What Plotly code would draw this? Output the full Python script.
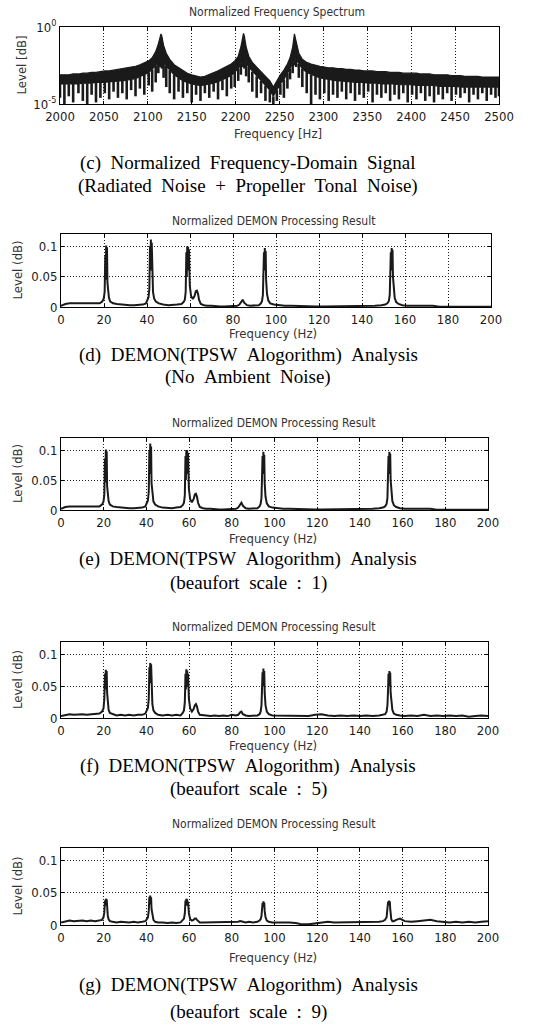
import plotly.graph_objects as go

W, H = 550, 1029

# ---------------- Panel (c): normalized frequency spectrum (log10 levels) ----------------
c_freq = [2000, 2005, 2010, 2015, 2021, 2026, 2031, 2036, 2041, 2046, 2051, 2056, 2061, 2066, 2071,
          2076, 2081, 2086, 2091, 2096, 2101, 2105, 2109, 2112, 2114, 2115, 2116, 2118, 2121, 2125,
          2130, 2135, 2140, 2145, 2150, 2155, 2160, 2165, 2170, 2175, 2180, 2185, 2190, 2195, 2199,
          2203, 2206, 2208, 2209, 2210, 2212, 2215, 2219, 2224, 2229, 2234, 2239, 2243, 2247, 2251,
          2255, 2259, 2262, 2265, 2267, 2269, 2272, 2276, 2281, 2286, 2291, 2296, 2301, 2306, 2311,
          2316, 2321, 2326, 2331, 2336, 2341, 2346, 2351, 2356, 2361, 2366, 2371, 2376, 2381, 2386,
          2391, 2396, 2401, 2406, 2411, 2416, 2421, 2426, 2431, 2436, 2441, 2446, 2451, 2456, 2461,
          2466, 2471, 2476, 2481, 2486, 2491, 2496, 2500]
c_top_log = [-3.1, -3.1, -3.1, -3.05, -3.05, -3.0, -3.0, -2.95, -2.95, -2.9, -2.85, -2.85, -2.8, -2.75, -2.7,
             -2.65, -2.6, -2.55, -2.45, -2.35, -2.2, -2.0, -1.6, -1.1, -0.6, -0.45, -0.6, -1.2, -1.7, -2.1,
             -2.45, -2.65, -2.85, -3.0, -3.1, -3.2, -3.25, -3.2, -3.1, -3.0, -2.85, -2.7, -2.55, -2.4, -2.2,
             -1.9, -1.3, -0.55, -0.42, -0.6, -1.3, -1.9, -2.3, -2.6, -2.9, -3.2, -3.5, -3.9, -3.5, -3.1,
             -2.8, -2.4, -2.0, -1.3, -0.45, -1.0, -1.7, -2.1, -2.3, -2.4, -2.5, -2.55, -2.6, -2.65, -2.65,
             -2.7, -2.7, -2.75, -2.75, -2.8, -2.8, -2.85, -2.85, -2.85, -2.9, -2.9, -2.9, -2.95, -2.95, -2.95,
             -3.0, -3.0, -3.0, -3.0, -3.05, -3.05, -3.05, -3.1, -3.1, -3.1, -3.1, -3.15, -3.15, -3.15, -3.2,
             -3.2, -3.2, -3.2, -3.25, -3.25, -3.25, -3.25, -3.25]
c_band_log = [-3.7, -3.7, -3.7, -3.7, -3.7, -3.65, -3.65, -3.65, -3.6, -3.6, -3.6, -3.55, -3.55, -3.5, -3.5,
              -3.45, -3.4, -3.35, -3.25, -3.1, -2.95, -2.75, -2.5, -2.3, -2.1, -1.8, -2.0, -2.3, -2.5, -2.8,
              -3.1, -3.3, -3.5, -3.6, -3.7, -3.75, -3.8, -3.75, -3.7, -3.65, -3.55, -3.45, -3.3, -3.15, -2.95,
              -2.7, -2.4, -2.1, -1.9, -2.0, -2.3, -2.6, -2.9, -3.2, -3.5, -3.8, -4.1, -4.5, -4.1, -3.7,
              -3.4, -3.0, -2.7, -2.3, -1.9, -2.1, -2.4, -2.7, -2.95, -3.1, -3.2, -3.3, -3.35, -3.4, -3.45,
              -3.5, -3.5, -3.55, -3.55, -3.6, -3.6, -3.6, -3.65, -3.65, -3.65, -3.7, -3.7, -3.7, -3.7, -3.75,
              -3.75, -3.75, -3.75, -3.8, -3.8, -3.8, -3.8, -3.8, -3.85, -3.85, -3.85, -3.85, -3.85, -3.9, -3.9,
              -3.9, -3.9, -3.9, -3.9, -3.9, -3.9, -3.9, -3.9]
c_trough_log = [-4.6, -5.0, -4.5, -4.9, -4.3, -4.8, -5.0, -4.4, -4.9, -4.6, -4.3, -4.7, -4.2, -4.6, -4.3,
                -4.7, -4.1, -4.5, -4.0, -4.4, -3.8, -4.2, -3.6, -3.0, -2.6, -2.4, -2.7, -3.3, -3.9, -4.3,
                -4.7, -4.2, -4.6, -4.3, -4.9, -4.4, -4.8, -4.3, -4.6, -4.2, -4.7, -4.1, -4.5, -4.0, -3.9,
                -3.5, -3.1, -2.6, -2.5, -2.7, -3.2, -3.6, -4.2, -4.6, -4.3, -4.8, -4.9, -5.0, -4.8, -4.4,
                -4.6, -4.0, -3.4, -3.0, -2.5, -2.6, -3.3, -3.9, -4.3, -5.0, -4.4, -4.7, -4.3, -4.8, -4.4,
                -4.6, -4.2, -4.7, -4.3, -4.8, -4.4, -4.6, -4.2, -4.9, -4.4, -4.6, -4.3, -4.8, -4.4, -4.7,
                -4.3, -4.9, -4.4, -4.7, -4.3, -4.8, -4.5, -4.9, -4.4, -4.7, -4.3, -4.8, -4.4, -4.6, -4.3,
                -4.9, -4.4, -4.7, -4.3, -4.8, -4.4, -4.6, -4.5]
c_xticks = [2000, 2050, 2100, 2150, 2200, 2250, 2300, 2350, 2400, 2450, 2500]

# ---------------- Panels (d)-(g): DEMON results ----------------
demon_freq = [0, 2, 4, 6, 8, 10, 12, 14, 16, 18,
              19.2, 19.9, 20.3, 20.6, 20.8, 21.0, 21.2, 21.4, 21.6, 21.9, 22.3, 22.9, 24.2,
              26, 28, 30, 32, 34, 36, 38, 39.5,
              40.0, 40.7, 41.1, 41.4, 41.6, 41.8, 42.0, 42.2, 42.4, 42.8, 43.3, 44.1, 45.5,
              47.5, 50, 52, 54, 56, 57.0,
              57.6, 58.0, 58.3, 58.5, 58.7, 58.9, 59.1, 59.3, 59.5, 59.9, 60.5, 61.3,
              62.1, 62.7, 63.2, 63.7, 64.2, 65, 66.5,
              68, 70, 72, 74, 76, 78, 80, 82,
              83.0, 83.9, 84.5, 85.2, 86.5,
              88, 90, 92, 93.0,
              93.5, 93.9, 94.2, 94.4, 94.6, 94.8, 95.0, 95.2, 95.4, 95.8, 96.4, 97.3, 99.0,
              101, 104, 107, 110, 113, 116, 119, 122, 125, 128, 131, 134, 137, 140, 143, 146, 149, 150.8,
              151.8, 152.5, 152.9, 153.2, 153.4, 153.6, 153.8, 154.0, 154.2, 154.4, 154.7, 155.2, 155.9, 157.0, 158.8,
              161, 164, 167, 170, 173, 176, 179, 182, 185, 188, 191, 194, 197, 200]

level_no_noise = [0.002, 0.005, 0.006, 0.006, 0.006, 0.006, 0.006, 0.005, 0.005, 0.006,
                  0.009, 0.014, 0.025, 0.085, 0.05, 0.101, 0.045, 0.098, 0.04, 0.028, 0.015, 0.009, 0.006,
                  0.005, 0.004, 0.004, 0.003, 0.003, 0.003, 0.004, 0.006,
                  0.01, 0.016, 0.03, 0.1, 0.065, 0.111, 0.06, 0.106, 0.045, 0.025, 0.014, 0.009, 0.006,
                  0.004, 0.003, 0.003, 0.004, 0.005, 0.008,
                  0.012, 0.025, 0.09, 0.05, 0.1, 0.06, 0.099, 0.07, 0.095, 0.035, 0.018, 0.013,
                  0.018, 0.026, 0.027, 0.022, 0.012, 0.005, 0.003,
                  0.002, 0.002, 0.001, 0.001, 0.001, 0.001, 0.001, 0.002,
                  0.004, 0.01, 0.012, 0.007, 0.003,
                  0.002, 0.002, 0.003, 0.006,
                  0.01, 0.02, 0.045, 0.09, 0.06, 0.097, 0.065, 0.092, 0.045, 0.022, 0.011, 0.006, 0.004,
                  0.003, 0.002, 0.002, 0.0015, 0.001, 0.001, 0.001, 0.001, 0.001, 0.001, 0.001, 0.001, 0.001, 0.001, 0.0015, 0.002, 0.003, 0.004,
                  0.006, 0.01, 0.02, 0.05, 0.09, 0.06, 0.097, 0.065, 0.094, 0.05, 0.03, 0.015, 0.008, 0.005, 0.003,
                  0.002, 0.002, 0.002, 0.002, 0.002, 0.0005, 0.0005, 0.0005, 0.0005, 0.0005, 0.0005, 0.0005, 0.0005, 0.0005]

level_bf1 = [0.002, 0.005, 0.006, 0.006, 0.006, 0.006, 0.006, 0.005, 0.005, 0.006,
             0.009, 0.014, 0.026, 0.086, 0.05, 0.101, 0.046, 0.098, 0.04, 0.028, 0.015, 0.009, 0.006,
             0.005, 0.004, 0.004, 0.003, 0.003, 0.003, 0.004, 0.006,
             0.01, 0.016, 0.03, 0.1, 0.064, 0.111, 0.06, 0.106, 0.045, 0.025, 0.014, 0.009, 0.006,
             0.004, 0.003, 0.003, 0.004, 0.005, 0.008,
             0.012, 0.025, 0.09, 0.05, 0.1, 0.06, 0.099, 0.07, 0.095, 0.035, 0.018, 0.013,
             0.018, 0.026, 0.027, 0.022, 0.012, 0.005, 0.003,
             0.002, 0.002, 0.001, 0.001, 0.001, 0.001, 0.001, 0.002,
             0.004, 0.01, 0.012, 0.007, 0.003,
             0.002, 0.002, 0.003, 0.006,
             0.01, 0.02, 0.045, 0.09, 0.06, 0.097, 0.065, 0.092, 0.045, 0.022, 0.011, 0.006, 0.004,
             0.003, 0.002, 0.002, 0.0015, 0.001, 0.001, 0.001, 0.001, 0.001, 0.001, 0.001, 0.001, 0.001, 0.001, 0.0015, 0.002, 0.003, 0.004,
             0.006, 0.01, 0.02, 0.05, 0.09, 0.06, 0.097, 0.065, 0.094, 0.05, 0.03, 0.015, 0.008, 0.005, 0.003,
             0.002, 0.002, 0.002, 0.002, 0.002, 0.0005, 0.0005, 0.0005, 0.0005, 0.0005, 0.0005, 0.0005, 0.0005, 0.0005]

level_bf5 = [0.003, 0.005, 0.006, 0.005, 0.006, 0.006, 0.005, 0.006, 0.006, 0.007,
             0.01, 0.015, 0.03, 0.07, 0.045, 0.076, 0.05, 0.074, 0.04, 0.025, 0.013, 0.008, 0.006,
             0.004, 0.005, 0.004, 0.005, 0.004, 0.005, 0.005, 0.007,
             0.01, 0.016, 0.03, 0.08, 0.055, 0.087, 0.06, 0.085, 0.04, 0.022, 0.012, 0.008, 0.005,
             0.004, 0.005, 0.004, 0.005, 0.004, 0.008,
             0.012, 0.025, 0.07, 0.045, 0.077, 0.05, 0.075, 0.055, 0.07, 0.03, 0.015, 0.01,
             0.014, 0.02, 0.022, 0.018, 0.01, 0.005, 0.004,
             0.004, 0.003, 0.004, 0.003, 0.004, 0.003, 0.005, 0.004,
             0.005, 0.009, 0.01, 0.006, 0.004,
             0.003, 0.004, 0.004, 0.006,
             0.01, 0.02, 0.04, 0.072, 0.05, 0.078, 0.055, 0.074, 0.04, 0.02, 0.01, 0.006, 0.004,
             0.004, 0.003, 0.004, 0.003, 0.004, 0.003, 0.005, 0.006, 0.004, 0.003, 0.004, 0.003, 0.004, 0.003, 0.004, 0.003, 0.004, 0.005,
             0.006, 0.01, 0.02, 0.045, 0.07, 0.05, 0.074, 0.055, 0.072, 0.04, 0.025, 0.013, 0.007, 0.005, 0.004,
             0.003, 0.004, 0.003, 0.005, 0.003, 0.004, 0.003, 0.004, 0.003, 0.004, 0.002, 0.003, 0.004, 0.003]

level_bf9 = [0.004, 0.006, 0.007, 0.006, 0.007, 0.007, 0.006, 0.007, 0.006, 0.007,
             0.008, 0.012, 0.02, 0.038, 0.03, 0.041, 0.032, 0.04, 0.025, 0.015, 0.009, 0.006, 0.005,
             0.004, 0.005, 0.004, 0.004, 0.005, 0.004, 0.005, 0.006,
             0.008, 0.012, 0.022, 0.044, 0.032, 0.046, 0.035, 0.043, 0.025, 0.014, 0.008, 0.005, 0.004,
             0.004, 0.003, 0.004, 0.003, 0.004, 0.007,
             0.01, 0.018, 0.038, 0.03, 0.041, 0.033, 0.04, 0.03, 0.036, 0.018, 0.009, 0.007,
             0.008, 0.01, 0.01, 0.008, 0.006, 0.004, 0.004,
             0.004, 0.005, 0.004, 0.005, 0.004, 0.005, 0.005, 0.004,
             0.005, 0.006, 0.005, 0.005, 0.004,
             0.005, 0.004, 0.005, 0.007,
             0.009, 0.014, 0.022, 0.034, 0.028, 0.037, 0.03, 0.035, 0.022, 0.012, 0.007, 0.005, 0.004,
             0.004, 0.005, 0.004, 0.003, 0.001, 0.001, 0.002, 0.004, 0.005, 0.004, 0.004, 0.005, 0.004, 0.004, 0.005, 0.004, 0.005, 0.006,
             0.008, 0.012, 0.022, 0.036, 0.031, 0.038, 0.031, 0.037, 0.025, 0.015, 0.009, 0.006, 0.006, 0.008, 0.01,
             0.006, 0.005, 0.006, 0.007, 0.008, 0.006, 0.005, 0.004, 0.005, 0.004, 0.005, 0.004, 0.005, 0.006]

demon_xticks = [0, 20, 40, 60, 80, 100, 120, 140, 160, 180, 200]
demon_yticks = [0, 0.05, 0.1]
demon_yticklabels = ["0", "0.05", "0.1"]

panel_titles = ["Normalized Frequency Spectrum"] + ["Normalized DEMON Processing Result"] * 4
captions = [
    ("(c)  Normalized  Frequency-Domain  Signal", "(Radiated  Noise  +  Propeller  Tonal  Noise)"),
    ("(d)  DEMON(TPSW  Alogorithm)  Analysis", "(No  Ambient  Noise)"),
    ("(e)  DEMON(TPSW  Alogorithm)  Analysis", "(beaufort  scale  :  1)"),
    ("(f)  DEMON(TPSW  Alogorithm)  Analysis", "(beaufort  scale  :  5)"),
    ("(g)  DEMON(TPSW  Alogorithm)  Analysis", "(beaufort  scale  :  9)"),
]
demon_levels = [level_no_noise, level_bf1, level_bf5, level_bf9]

# ---------------- layout geometry (pixels) ----------------
boxes = [(60, 499, 27, 104), (61, 491, 234, 307), (61, 488, 438, 510), (61, 488, 642, 718), (61, 488, 848, 925)]
title_y = [12, 221, 423, 627, 824]
xlabel_y = [134, 333, 538, 745, 957]
cap_y = [(163, 186), (355, 377), (559, 583), (766, 789), (985, 1012)]

SANS = "Liberation Sans Narrow, DejaVu Sans Condensed, Liberation Sans, Arial, sans-serif"
SERIF = "Liberation Serif, Times New Roman, serif"
INK = "#1a1a1a"

fig = go.Figure()

# panel c traces
top_lin = [10 ** v for v in c_top_log]
band_lin = [10 ** v for v in c_band_log]
fig.add_trace(go.Scatter(x=c_freq + c_freq[::-1], y=top_lin + band_lin[::-1], fill="toself",
                         fillcolor=INK, line=dict(color=INK, width=1.2), mode="lines",
                         xaxis="x", yaxis="y", showlegend=False, hoverinfo="skip"))
sx, sy = [], []
for f, b, t in zip(c_freq, c_band_log, c_trough_log):
    sx += [f, f, None]
    sy += [10 ** b, 10 ** t, None]
fig.add_trace(go.Scatter(x=sx, y=sy, mode="lines", line=dict(color=INK, width=2.6),
                         xaxis="x", yaxis="y", showlegend=False, hoverinfo="skip"))

for i, lv in enumerate(demon_levels):
    k = i + 2
    fig.add_trace(go.Scatter(x=demon_freq, y=lv, mode="lines", line=dict(color=INK, width=2.0),
                             xaxis=f"x{k}", yaxis=f"y{k}", showlegend=False))

axis_common = dict(showline=True, linecolor="black", linewidth=1, mirror="ticks", ticks="inside",
                   ticklen=3, tickcolor="black", zeroline=False, automargin=False,
                   tickfont=dict(family=SANS, size=13, color=INK),
                   gridcolor="#222222", griddash="1px,2px", gridwidth=1)

layout = dict(width=W, height=H, margin=dict(l=0, r=0, t=0, b=0, pad=0), template="none",
              paper_bgcolor="white", plot_bgcolor="white", showlegend=False)

annotations = []
for i, (x0, x1, y0, y1) in enumerate(boxes):
    k = "" if i == 0 else str(i + 1)
    xd = [x0 / W, x1 / W]
    yd = [1 - y1 / H, 1 - y0 / H]
    if i == 0:
        layout["xaxis"] = dict(axis_common, domain=xd, anchor="y", range=[2000, 2500],
                               tickvals=c_xticks, showgrid=True)
        layout["yaxis"] = dict(axis_common, domain=yd, anchor="x", type="log", range=[-5, 0],
                               tickvals=[1e-5, 1], ticktext=["10<sup>-5</sup>", "10<sup>0</sup>"],
                               showgrid=False)
    else:
        layout[f"xaxis{k}"] = dict(axis_common, domain=xd, anchor=f"y{k}", range=[0, 200],
                                   tickvals=demon_xticks, showgrid=True)
        layout[f"yaxis{k}"] = dict(axis_common, domain=yd, anchor=f"x{k}", range=[0, 0.12],
                                   tickvals=demon_yticks, ticktext=demon_yticklabels, showgrid=True)
    cx = 277 if i == 0 else 273
    annotations.append(dict(text=panel_titles[i], x=cx / W, y=1 - title_y[i] / H, xref="paper", yref="paper",
                            xanchor="center", yanchor="middle", showarrow=False,
                            font=dict(family=SANS, size=12, color="#333")))
    annotations.append(dict(text="Frequency [Hz]" if i == 0 else "Frequency (Hz)",
                            x=(278 if i == 0 else 273) / W, y=1 - xlabel_y[i] / H, xref="paper", yref="paper",
                            xanchor="center", yanchor="middle", showarrow=False,
                            font=dict(family=SANS, size=13, color="#333")))
    annotations.append(dict(text="Level [dB]" if i == 0 else "Level (dB)", textangle=-90,
                            x=(21 if i == 0 else 17) / W, y=1 - ((y0 + y1) / 2) / H, xref="paper", yref="paper",
                            xanchor="center", yanchor="middle", showarrow=False,
                            font=dict(family=SANS, size=13, color="#333")))
    for line_text, yy in zip(captions[i], cap_y[i]):
        annotations.append(dict(text=line_text.replace("  ", "\u00a0\u00a0"), x=248 / W, y=1 - yy / H,
                                xref="paper", yref="paper", xanchor="center", yanchor="middle",
                                showarrow=False, font=dict(family=SERIF, size=19, color="black")))

layout["annotations"] = annotations
fig.update_layout(**layout)
fig.write_html("out.html", config={"displayModeBar": False},
               post_script="document.body.style.margin='0';document.body.style.overflow='hidden';")
